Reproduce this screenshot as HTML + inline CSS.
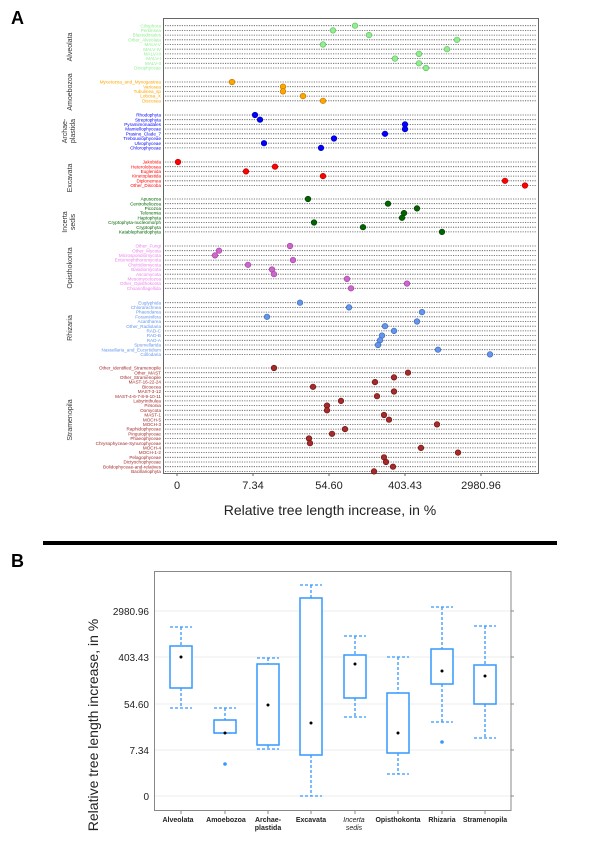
<!DOCTYPE html>
<html><head><meta charset="utf-8"><style>
html,body{margin:0;padding:0;background:#fff;}
svg{display:block;font-family:"Liberation Sans",sans-serif;}
</style></head><body>
<svg id="s" width="600" height="849" viewBox="0 0 600 849" xmlns="http://www.w3.org/2000/svg">
<text x="11" y="24" font-size="18" font-weight="bold">A</text>
<rect x="163.5" y="18.5" width="375" height="455" fill="none" stroke="#666" stroke-width="1"/>
<g id="rows"></g>
<g font-size="11" fill="#222" text-anchor="middle">
<text x="177" y="489">0</text><text x="253" y="489">7.34</text><text x="329" y="489">54.60</text><text x="405" y="489">403.43</text><text x="481" y="489">2980.96</text>
</g>
<g stroke="#666"><line x1="177" y1="473" x2="177" y2="476"/><line x1="253" y1="473" x2="253" y2="476"/><line x1="329" y1="473" x2="329" y2="476"/><line x1="405" y1="473" x2="405" y2="476"/><line x1="481" y1="473" x2="481" y2="476"/></g>
<text x="330" y="515" font-size="14" fill="#222" text-anchor="middle">Relative tree length increase, in %</text>
<rect x="43" y="541" width="514" height="4" fill="#000"/>

<text x="11" y="567" font-size="18" font-weight="bold">B</text>
<g stroke="#eee" stroke-width="1"><line x1="155" y1="611" x2="511" y2="611"/><line x1="155" y1="657" x2="511" y2="657"/><line x1="155" y1="704" x2="511" y2="704"/><line x1="155" y1="750" x2="511" y2="750"/><line x1="155" y1="796" x2="511" y2="796"/></g>
<rect x="154.5" y="571.5" width="356.5" height="239" fill="none" stroke="#888" stroke-width="1"/>
<g font-size="10" fill="#222" text-anchor="end">
<text x="149" y="615">2980.96</text><text x="149" y="661">403.43</text><text x="149" y="708">54.60</text><text x="149" y="754">7.34</text><text x="149" y="800">0</text>
</g>
<text transform="translate(98,725) rotate(-90)" font-size="14" fill="#222" text-anchor="middle">Relative tree length increase, in %</text>
<g id="boxes"></g>
<g font-size="7" fill="#222" text-anchor="middle" font-weight="bold">
<text x="178" y="822">Alveolata</text><text x="226" y="822">Amoebozoa</text><text x="268" y="822">Archae-</text><text x="268" y="830">plastida</text>
<text x="311" y="822">Excavata</text><text x="354" y="822" font-style="italic" font-weight="normal">Incerta</text><text x="354" y="830" font-style="italic" font-weight="normal">sedis</text>
<text x="398" y="822">Opisthokonta</text><text x="442" y="822">Rhizaria</text><text x="485" y="822">Stramenopila</text>
</g>
</svg>
<script>
var NS="http://www.w3.org/2000/svg";
function el(p,t,a,tx){var e=document.createElementNS(NS,t);for(var k in a)e.setAttribute(k,a[k]);if(tx)e.textContent=tx;p.appendChild(e);return e;}
var G=[
{n:["Alveolata"],c:"#90ee90",d:"#5fb85f",y:25.7,gy:47,l:["Ciliophora","Perkinsea","Blastodiniales","Other_Alveolata","MALV-V","MALV-IV","MALV-III","MALV-I","MALV-II","Dinophyceae"],x:[355,333,369,457,323,447,419,395,419,426]},
{n:["Amoebozoa"],c:"#ffa500",d:"#b87400",y:82,gy:92,l:["Mycetozoa_and_Myxogastrea","Variosea","Tubulinea_sp","Lobosa_X","Discosea"],x:[232,283,283,303,323]},
{n:["Archae-","plastida"],c:"#0000ff",d:"#0000b0",y:115,gy:131,l:["Rhodophyta","Streptophyta","Pyramimonadales","Mamiellophyceae","Prasino_Clade_7","Trebouxiophyceae","Ulvophyceae","Chlorophyceae"],x:[255,260,405,405,385,334,264,321]},
{n:["Excavata"],c:"#ff0000",d:"#b00000",y:162,gy:178,l:["Jakobida","Heterolobosea","Euglenida","Kinetoplastida","Diplonemea","Other_Discoba"],x:[178,275,246,323,505,525]},
{n:["Incerta","sedis"],c:"#006400",d:"#003a00",y:199,gy:222,l:["Apusozoa","Centroheliozoa","Picozoa","Telonemia","Haptophyta","Cryptophyta-nucleomorph","Cryptophyta","Katablepharidophyta"],x:[308,388,417,404,402,314,363,442]},
{n:["Opisthokonta"],c:"#ee82ee",d:"#a040a0",dc:"#cc66cc",y:246,gy:268,l:["Other_Fungi","Other_Mycota","Microsporidiomycota","Entomophthoromycota","Chytridiomycota","Basidiomycota","Ascomycota","Mesomycetozoa","Other_Opisthokonta","Choanoflagellida"],x:[290,219,215,293,248,272,274,347,407,351]},
{n:["Rhizaria"],c:"#6495ed",d:"#3a66b0",y:302.7,gy:328,l:["Euglyphida","Chlorarachnea","Phaeodarea","Foraminifera","Acantharea","Other_Radiolaria","RAD-C","RAD-B","RAD-A","Spumellarida","Nassellaria_and_Eucyrtidium","Collodaria"],x:[300,349,422,267,417,385,394,382,380,378,438,490]},
{n:["Stramenopila"],c:"#a52a2a",d:"#6a1010",y:368,gy:420,l:["Other_identified_Stramenopile","Other_MAST","Other_Stramenopile","MAST-16-22-24","Bicoecea","MAST-3-12","MAST-4-6-7-8-9-10-11","Labyrinthulea","Pirsonia","Oomycota","MAST-1","MOCH-5","MOCH-3","Raphidophyceae","Pinguiophyceae","Phaeophyceae","Chrysophyceae-Synurophyceae","MOCH-4","MOCH-1-2","Pelagophyceae","Dictyochophyceae","Bolidophyceae-and-relatives","Bacillariophyta"],x:[274,408,394,375,313,394,377,341,327,327,384,389,437,345,332,309,310,421,458,384,386,393,374]}
];
var R=document.getElementById("rows");
G.forEach(function(g){
 g.l.forEach(function(lab,i){
  var y=g.y+i*4.7;
  el(R,"line",{x1:165,y1:y,x2:537,y2:y,stroke:"#555","stroke-width":0.8,"stroke-dasharray":"1.2 1.2"});
  el(R,"text",{x:161,y:y+1.6,"font-size":4.6,fill:g.c,"text-anchor":"end"},lab);
 });
 g.l.forEach(function(lab,i){
  var y=g.y+i*4.7;
  el(R,"circle",{cx:g.x[i],cy:y,r:2.8,fill:g.dc||g.c,stroke:g.d,"stroke-width":0.6});
 });
 var t=el(R,"text",{transform:"translate("+(g.n.length>1?67:72)+","+g.gy+") rotate(-90)","font-size":7,fill:"#333","text-anchor":"middle"});
 g.n.forEach(function(s,j){var ts=document.createElementNS(NS,"tspan");ts.setAttribute("x",0);ts.setAttribute("dy",j?8:0);ts.textContent=s;t.appendChild(ts);});
});
var B=document.getElementById("boxes"),C="#3399ff";
[[181,646,688,627,708,657,null],[225,720,733,708,733,733,764],[268,664,745,658,749,705,null],[311,598,755,585,796,723,null],[355,655,698,636,717,664,null],[398,693,753,657,774,733,null],[442,649,684,607,722,671,742],[485,665,704,626,738,676,null]].forEach(function(b){
 var x=b[0];
 el(B,"line",{x1:x,y1:b[3],x2:x,y2:b[1],stroke:C,"stroke-width":1.3,"stroke-dasharray":"3 2"});
 el(B,"line",{x1:x,y1:b[2],x2:x,y2:b[4],stroke:C,"stroke-width":1.3,"stroke-dasharray":"3 2"});
 el(B,"line",{x1:x-11,y1:b[3],x2:x+11,y2:b[3],stroke:C,"stroke-width":1.3,"stroke-dasharray":"3 2"});
 el(B,"line",{x1:x-11,y1:b[4],x2:x+11,y2:b[4],stroke:C,"stroke-width":1.3,"stroke-dasharray":"3 2"});
 el(B,"rect",{x:x-11,y:b[1],width:22,height:b[2]-b[1],fill:"#fff",stroke:C,"stroke-width":1.5});
 el(B,"circle",{cx:x,cy:b[5],r:1.5,fill:"#000"});
 if(b[6])el(B,"circle",{cx:x,cy:b[6],r:1.8,fill:C});
 el(B,"line",{x1:x,y1:811,x2:x,y2:814,stroke:"#888"});
});
[611,657,704,750,796].forEach(function(y){el(B,"line",{x1:511,y1:y,x2:514,y2:y,stroke:"#888"});});
</script>
</body></html>
